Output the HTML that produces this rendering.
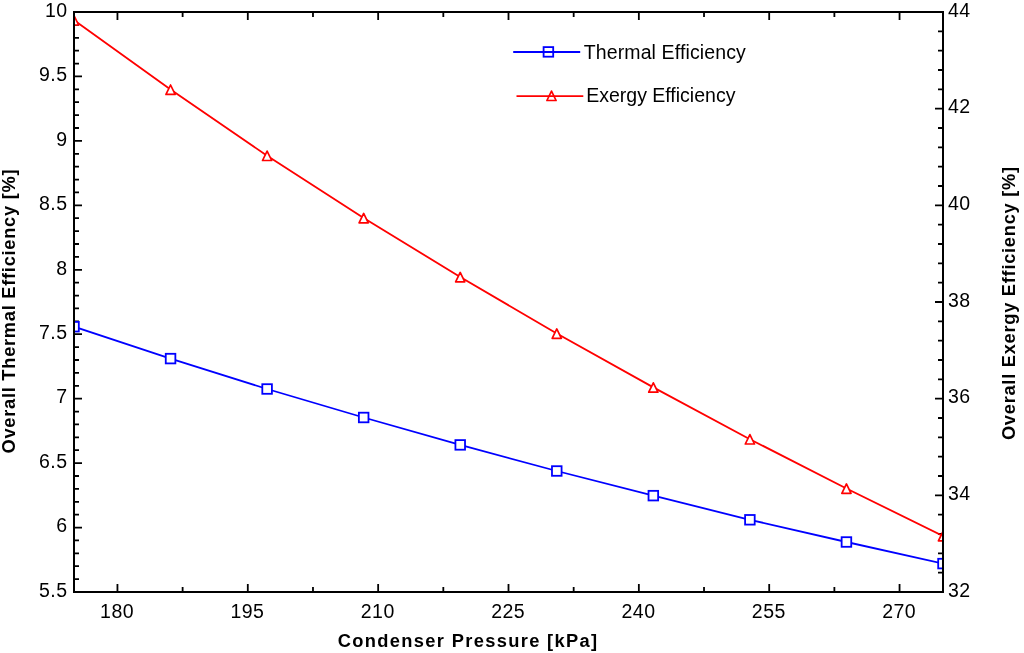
<!DOCTYPE html><html><head><meta charset="utf-8"><style>html,body{margin:0;padding:0;background:#fff;}svg{display:block;will-change:transform}text{font-family:"Liberation Sans",sans-serif;}</style></head><body>
<svg width="1024" height="653" viewBox="0 0 1024 653">
<rect width="1024" height="653" fill="#fff"/>
<defs><clipPath id="pc"><rect x="75.0" y="13.0" width="867.0" height="578.0"/></clipPath></defs>
<path d="M117.45 592.00V584.00M117.45 12.00V20.00M247.80 592.00V584.00M247.80 12.00V20.00M378.15 592.00V584.00M378.15 12.00V20.00M508.50 592.00V584.00M508.50 12.00V20.00M638.85 592.00V584.00M638.85 12.00V20.00M769.20 592.00V584.00M769.20 12.00V20.00M899.55 592.00V584.00M899.55 12.00V20.00M182.62 592.00V587.00M182.62 12.00V17.00M312.98 592.00V587.00M312.98 12.00V17.00M443.32 592.00V587.00M443.32 12.00V17.00M573.67 592.00V587.00M573.67 12.00V17.00M704.02 592.00V587.00M704.02 12.00V17.00M834.38 592.00V587.00M834.38 12.00V17.00M74.00 592.00H82.00M74.00 579.11H79.00M74.00 566.22H79.00M74.00 553.33H79.00M74.00 540.44H79.00M74.00 527.56H82.00M74.00 514.67H79.00M74.00 501.78H79.00M74.00 488.89H79.00M74.00 476.00H79.00M74.00 463.11H82.00M74.00 450.22H79.00M74.00 437.33H79.00M74.00 424.44H79.00M74.00 411.56H79.00M74.00 398.67H82.00M74.00 385.78H79.00M74.00 372.89H79.00M74.00 360.00H79.00M74.00 347.11H79.00M74.00 334.22H82.00M74.00 321.33H79.00M74.00 308.44H79.00M74.00 295.56H79.00M74.00 282.67H79.00M74.00 269.78H82.00M74.00 256.89H79.00M74.00 244.00H79.00M74.00 231.11H79.00M74.00 218.22H79.00M74.00 205.33H82.00M74.00 192.44H79.00M74.00 179.56H79.00M74.00 166.67H79.00M74.00 153.78H79.00M74.00 140.89H82.00M74.00 128.00H79.00M74.00 115.11H79.00M74.00 102.22H79.00M74.00 89.33H79.00M74.00 76.44H82.00M74.00 63.56H79.00M74.00 50.67H79.00M74.00 37.78H79.00M74.00 24.89H79.00M74.00 12.00H82.00M943.00 592.00H935.00M943.00 572.67H938.00M943.00 553.33H938.00M943.00 534.00H938.00M943.00 514.67H938.00M943.00 495.33H935.00M943.00 476.00H938.00M943.00 456.67H938.00M943.00 437.33H938.00M943.00 418.00H938.00M943.00 398.67H935.00M943.00 379.33H938.00M943.00 360.00H938.00M943.00 340.67H938.00M943.00 321.33H938.00M943.00 302.00H935.00M943.00 282.67H938.00M943.00 263.33H938.00M943.00 244.00H938.00M943.00 224.67H938.00M943.00 205.33H935.00M943.00 186.00H938.00M943.00 166.67H938.00M943.00 147.33H938.00M943.00 128.00H938.00M943.00 108.67H935.00M943.00 89.33H938.00M943.00 70.00H938.00M943.00 50.67H938.00M943.00 31.33H938.00M943.00 12.00H935.00" stroke="#000" stroke-width="1.8" fill="none"/>
<rect x="74.0" y="12.0" width="869.0" height="580.0" fill="none" stroke="#000" stroke-width="2"/>
<g clip-path="url(#pc)">
<polyline points="74.00,326.70 170.56,358.60 267.11,389.00 363.67,417.50 460.22,444.90 556.78,471.00 653.33,495.65 749.89,519.80 846.44,542.00 943.00,563.60" fill="none" stroke="#0000ff" stroke-width="1.8" stroke-linejoin="round"/>
<polyline points="74.00,20.20 170.56,89.60 267.11,155.70 363.67,218.00 460.22,277.00 556.78,333.50 653.33,387.40 749.89,439.20 846.44,488.50 943.00,536.00" fill="none" stroke="#ff0000" stroke-width="1.8" stroke-linejoin="round"/>
<rect x="69.20" y="321.90" width="9.60" height="9.60" fill="#fff" stroke="#0000ff" stroke-width="1.8"/>
<rect x="165.76" y="353.80" width="9.60" height="9.60" fill="#fff" stroke="#0000ff" stroke-width="1.8"/>
<rect x="262.31" y="384.20" width="9.60" height="9.60" fill="#fff" stroke="#0000ff" stroke-width="1.8"/>
<rect x="358.87" y="412.70" width="9.60" height="9.60" fill="#fff" stroke="#0000ff" stroke-width="1.8"/>
<rect x="455.42" y="440.10" width="9.60" height="9.60" fill="#fff" stroke="#0000ff" stroke-width="1.8"/>
<rect x="551.98" y="466.20" width="9.60" height="9.60" fill="#fff" stroke="#0000ff" stroke-width="1.8"/>
<rect x="648.53" y="490.85" width="9.60" height="9.60" fill="#fff" stroke="#0000ff" stroke-width="1.8"/>
<rect x="745.09" y="515.00" width="9.60" height="9.60" fill="#fff" stroke="#0000ff" stroke-width="1.8"/>
<rect x="841.64" y="537.20" width="9.60" height="9.60" fill="#fff" stroke="#0000ff" stroke-width="1.8"/>
<rect x="938.20" y="558.80" width="9.60" height="9.60" fill="#fff" stroke="#0000ff" stroke-width="1.8"/>
<path d="M74.00 15.60L78.60 25.00L69.40 25.00Z" fill="#fff" stroke="#ff0000" stroke-width="1.7" stroke-linejoin="round"/>
<path d="M170.56 85.00L175.16 94.40L165.96 94.40Z" fill="#fff" stroke="#ff0000" stroke-width="1.7" stroke-linejoin="round"/>
<path d="M267.11 151.10L271.71 160.50L262.51 160.50Z" fill="#fff" stroke="#ff0000" stroke-width="1.7" stroke-linejoin="round"/>
<path d="M363.67 213.40L368.27 222.80L359.07 222.80Z" fill="#fff" stroke="#ff0000" stroke-width="1.7" stroke-linejoin="round"/>
<path d="M460.22 272.40L464.82 281.80L455.62 281.80Z" fill="#fff" stroke="#ff0000" stroke-width="1.7" stroke-linejoin="round"/>
<path d="M556.78 328.90L561.38 338.30L552.18 338.30Z" fill="#fff" stroke="#ff0000" stroke-width="1.7" stroke-linejoin="round"/>
<path d="M653.33 382.80L657.93 392.20L648.73 392.20Z" fill="#fff" stroke="#ff0000" stroke-width="1.7" stroke-linejoin="round"/>
<path d="M749.89 434.60L754.49 444.00L745.29 444.00Z" fill="#fff" stroke="#ff0000" stroke-width="1.7" stroke-linejoin="round"/>
<path d="M846.44 483.90L851.04 493.30L841.84 493.30Z" fill="#fff" stroke="#ff0000" stroke-width="1.7" stroke-linejoin="round"/>
<path d="M943.00 531.40L947.60 540.80L938.40 540.80Z" fill="#fff" stroke="#ff0000" stroke-width="1.7" stroke-linejoin="round"/>
</g>
<text x="117.10" y="617.6" font-size="19.5" text-anchor="middle" letter-spacing="0.5">180</text>
<text x="247.45" y="617.6" font-size="19.5" text-anchor="middle" letter-spacing="0.5">195</text>
<text x="377.80" y="617.6" font-size="19.5" text-anchor="middle" letter-spacing="0.5">210</text>
<text x="508.15" y="617.6" font-size="19.5" text-anchor="middle" letter-spacing="0.5">225</text>
<text x="638.50" y="617.6" font-size="19.5" text-anchor="middle" letter-spacing="0.5">240</text>
<text x="768.85" y="617.6" font-size="19.5" text-anchor="middle" letter-spacing="0.5">255</text>
<text x="899.20" y="617.6" font-size="19.5" text-anchor="middle" letter-spacing="0.5">270</text>
<text x="67.60" y="596.80" font-size="19.5" text-anchor="end" letter-spacing="0.5">5.5</text>
<text x="67.60" y="532.36" font-size="19.5" text-anchor="end" letter-spacing="0.5">6</text>
<text x="67.60" y="467.91" font-size="19.5" text-anchor="end" letter-spacing="0.5">6.5</text>
<text x="67.60" y="403.47" font-size="19.5" text-anchor="end" letter-spacing="0.5">7</text>
<text x="67.60" y="339.02" font-size="19.5" text-anchor="end" letter-spacing="0.5">7.5</text>
<text x="67.60" y="274.58" font-size="19.5" text-anchor="end" letter-spacing="0.5">8</text>
<text x="67.60" y="210.13" font-size="19.5" text-anchor="end" letter-spacing="0.5">8.5</text>
<text x="67.60" y="145.69" font-size="19.5" text-anchor="end" letter-spacing="0.5">9</text>
<text x="67.60" y="81.24" font-size="19.5" text-anchor="end" letter-spacing="0.5">9.5</text>
<text x="67.60" y="16.80" font-size="19.5" text-anchor="end" letter-spacing="0.5">10</text>
<text x="948.0" y="596.80" font-size="19.5" letter-spacing="0.5">32</text>
<text x="948.0" y="500.13" font-size="19.5" letter-spacing="0.5">34</text>
<text x="948.0" y="403.47" font-size="19.5" letter-spacing="0.5">36</text>
<text x="948.0" y="306.80" font-size="19.5" letter-spacing="0.5">38</text>
<text x="948.0" y="210.13" font-size="19.5" letter-spacing="0.5">40</text>
<text x="948.0" y="113.47" font-size="19.5" letter-spacing="0.5">42</text>
<text x="948.0" y="16.80" font-size="19.5" letter-spacing="0.5">44</text>
<text x="468.12" y="647.0" font-size="18.3" font-weight="bold" text-anchor="middle" letter-spacing="1.34">Condenser Pressure [kPa]</text>
<text transform="translate(15.2 311.09) rotate(-90)" font-size="18.3" font-weight="bold" text-anchor="middle" letter-spacing="0.72">Overall Thermal Efficiency [%]</text>
<text transform="translate(1015.1 303.14) rotate(-90)" font-size="18.3" font-weight="bold" text-anchor="middle" letter-spacing="0.72">Overall Exergy Efficiency [%]</text>
<path d="M513.2 52.0H580.2" stroke="#0000ff" stroke-width="1.8"/>
<rect x="543.60" y="47.10" width="9.6" height="9.6" fill="none" stroke="#0000ff" stroke-width="1.8"/>
<text x="583.7" y="58.6" font-size="19.5" letter-spacing="0.12">Thermal Efficiency</text>
<path d="M516.5 96.1H583.3" stroke="#ff0000" stroke-width="1.8"/>
<path d="M551.50 91.10L556.10 100.50L546.90 100.50Z" fill="none" stroke="#ff0000" stroke-width="1.7" stroke-linejoin="round"/>
<text x="586.2" y="101.7" font-size="19.5">Exergy Efficiency</text>
</svg></body></html>
